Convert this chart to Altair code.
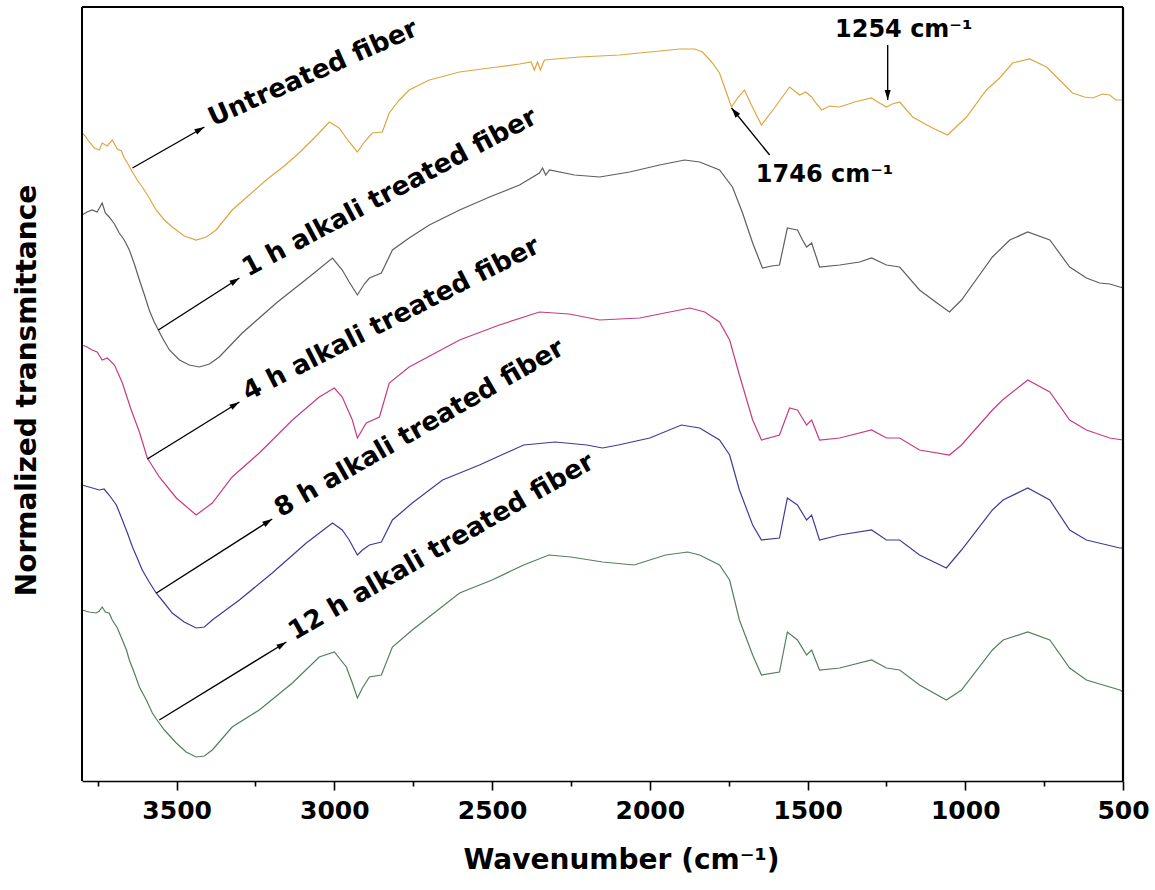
import math
import altair as alt
import pandas as pd

# ---------------- data (wavenumber in cm-1, normalized transmittance in a.u.) ----------------
untreated_wn = [3800, 3790, 3777, 3761, 3745, 3736, 3720, 3704, 3688, 3675, 3666, 3656, 3644, 3625, 3609,
                3587, 3565, 3539, 3514, 3476, 3438, 3406, 3375, 3324, 3270, 3216, 3159, 3112, 3064, 3016,
                2985, 2953, 2927, 2905, 2880, 2848, 2826, 2794, 2763, 2699, 2603, 2508, 2413, 2376, 2366,
                2356, 2347, 2334, 2223, 2096, 2000, 1905, 1858, 1833, 1804, 1779, 1760, 1741, 1722, 1700,
                1678, 1646, 1605, 1557, 1525, 1506, 1487, 1471, 1455, 1430, 1398, 1351, 1297, 1272, 1250,
                1231, 1208, 1167, 1104, 1056, 996, 933, 891, 850, 796, 742, 701, 660, 622, 596, 565, 542,
                523, 500]
untreated_t = [648, 645, 639, 633, 631, 638, 635, 641, 632, 630, 623, 618, 611, 601, 594,
               583, 571, 561, 554, 545, 541, 544, 551, 571, 586, 601, 615, 628, 643, 659,
               653, 639, 629, 639, 648, 649, 668, 681, 691, 701, 709, 713, 717, 719, 711,
               719, 711, 721, 724, 726, 729, 732, 732, 729, 719, 708, 691, 674, 683, 691,
               676, 656, 673, 694, 686, 689, 684, 677, 671, 675, 674, 679, 683, 678, 674,
               677, 679, 664, 653, 646, 664, 691, 703, 718, 722, 714, 701, 688, 684, 683, 687, 686,
               681, 681]

h1_wn = [3800, 3784, 3768, 3752, 3736, 3726, 3714, 3697, 3682, 3666, 3650, 3634, 3618, 3602, 3587, 3571,
         3558, 3545, 3523, 3491, 3460, 3428, 3396, 3365, 3292, 3184, 3080, 3006, 2975, 2953, 2927, 2905,
         2889, 2851, 2816, 2763, 2699, 2603, 2508, 2413, 2350, 2340, 2330, 2318, 2239, 2159, 2064, 1969,
         1890, 1842, 1779, 1738, 1706, 1674, 1643, 1614, 1589, 1564, 1548, 1532, 1516, 1503, 1487, 1462,
         1398, 1335, 1297, 1250, 1208, 1145, 1081, 1050, 1012, 955, 914, 859, 802, 732, 669, 616, 574,
         542, 510, 500]
h1_t = [566, 569, 571, 569, 578, 568, 564, 557, 548, 541, 531, 517, 501, 486, 471, 459,
        451, 443, 431, 421, 416, 414, 417, 424, 448, 478, 504, 523, 511, 499, 486, 497,
        503, 508, 531, 543, 556, 571, 584, 596, 608, 613, 606, 611, 606, 604, 609, 616,
        621, 619, 611, 594, 568, 538, 513, 515, 516, 553, 552, 551, 541, 534, 538, 514,
        516, 519, 523, 516, 514, 491, 476, 469, 481, 506, 524, 541, 549, 541, 514, 503, 498,
        497, 494, 493]

h4_wn = [3800, 3784, 3768, 3752, 3736, 3720, 3697, 3672, 3644, 3618, 3593, 3555, 3501, 3438, 3387, 3324,
         3238, 3133, 3048, 3000, 2975, 2943, 2927, 2899, 2857, 2826, 2763, 2603, 2477, 2350, 2255, 2159,
         2032, 1937, 1873, 1826, 1779, 1747, 1716, 1674, 1646, 1589, 1557, 1532, 1503, 1487, 1462, 1398,
         1297, 1250, 1208, 1145, 1050, 1012, 914, 882, 802, 732, 669, 616, 542, 500]
h4_t = [436, 434, 431, 429, 421, 423, 416, 398, 371, 349, 323, 304, 283, 266, 278, 304,
        328, 361, 384, 393, 384, 361, 343, 358, 364, 398, 414, 441, 456, 469, 467, 461,
        463, 469, 473, 469, 459, 441, 406, 361, 341, 346, 373, 371, 356, 361, 341, 343,
        351, 343, 343, 331, 326, 336, 371, 381, 401, 389, 361, 351, 343, 341]

h8_wn = [3800, 3778, 3745, 3730, 3714, 3691, 3672, 3656, 3640, 3625, 3609, 3587, 3565, 3539, 3514, 3476,
         3438, 3412, 3387, 3301, 3197, 3089, 3006, 2975, 2953, 2927, 2911, 2889, 2851, 2816, 2753, 2657,
         2540, 2400, 2300, 2200, 2150, 2100, 2000, 1900, 1842, 1779, 1747, 1716, 1674, 1646, 1589, 1564,
         1532, 1503, 1487, 1462, 1398, 1297, 1250, 1208, 1145, 1060, 1012, 914, 880, 802, 732, 669, 616,
         510, 500]
h8_t = [296, 294, 291, 292, 286, 276, 261, 248, 234, 223, 211, 199, 188, 178, 168, 159,
        153, 154, 161, 181, 208, 238, 258, 251, 241, 226, 231, 236, 239, 261, 278, 301,
        316, 336, 339, 336, 333, 336, 343, 356, 353, 341, 326, 291, 256, 241, 243, 283,
        276, 261, 266, 241, 246, 251, 241, 241, 226, 213, 231, 271, 281, 293, 281, 251, 241,
        233, 233]

h12_wn = [3800, 3778, 3755, 3745, 3736, 3726, 3714, 3704, 3688, 3672, 3659, 3650, 3634, 3618, 3596, 3577,
          3562, 3539, 3501, 3470, 3438, 3412, 3387, 3324, 3238, 3133, 3048, 3000, 2962, 2943, 2927, 2911,
          2889, 2851, 2816, 2753, 2603, 2500, 2400, 2320, 2250, 2150, 2050, 1950, 1880, 1842, 1779, 1747,
          1716, 1674, 1646, 1589, 1564, 1532, 1503, 1487, 1462, 1398, 1297, 1250, 1208, 1145, 1060, 1012,
          914, 880, 802, 732, 669, 616, 510, 500]
h12_t = [171, 169, 168, 170, 174, 169, 168, 161, 153, 141, 131, 121, 108, 94, 81, 68,
         61, 51, 38, 29, 24, 25, 31, 54, 71, 98, 124, 129, 114, 98, 83, 93,
         104, 106, 134, 151, 188, 201, 216, 226, 224, 219, 216, 226, 229, 226, 216, 201,
         161, 126, 106, 109, 149, 141, 126, 131, 111, 113, 121, 113, 111, 96, 81, 91,
         131, 141, 149, 141, 113, 101, 91, 89]

series_names = ["Untreated fiber", "1 h alkali treated fiber", "4 h alkali treated fiber",
                "8 h alkali treated fiber", "12 h alkali treated fiber"]
series_colors = ["#DDA640", "#5E5E5E", "#C83A80", "#3C3C98", "#52805A"]
series_data = [(untreated_wn, untreated_t), (h1_wn, h1_t), (h4_wn, h4_t), (h8_wn, h8_t), (h12_wn, h12_t)]

# arrows for the series labels: start (on curve) and tip (wavenumber, a.u.)
label_arrow_x = [3640, 3558, 3593, 3564, 3555]
label_arrow_y = [613, 451, 322, 188, 61]
label_arrow_x2 = [3412, 3301, 3301, 3197, 3152]
label_arrow_y2 = [654, 503, 379, 262, 139]
label_angles = [24, 28, 27, 30, 30]   # text tilt, degrees counter-clockwise

# peak annotations
peak_texts = ["1746 cm\u207b\u00b9", "1254 cm\u207b\u00b9"]
peak_text_x = [1446, 1195]
peak_text_y = [599, 744]
peak_arrow_x = [1620, 1246]
peak_arrow_y = [626, 736]
peak_arrow_x2 = [1741, 1246]
peak_arrow_y2 = [673, 681]

# ---------------- layout ----------------
W, H = 1041, 774
X_DOMAIN = [500, 3800]
Y_DOMAIN = [0, 774]
FONT = "DejaVu Sans"


def to_px(wn, t):
    return ((X_DOMAIN[1] - wn) / (X_DOMAIN[1] - X_DOMAIN[0]) * W,
            (Y_DOMAIN[1] - t) / (Y_DOMAIN[1] - Y_DOMAIN[0]) * H)


def from_px(px, py):
    return (X_DOMAIN[1] - px / W * (X_DOMAIN[1] - X_DOMAIN[0]),
            Y_DOMAIN[1] - py / H * (Y_DOMAIN[1] - Y_DOMAIN[0]))


rows = []
for name, (wn, t) in zip(series_names, series_data):
    for a, b in zip(wn, t):
        rows.append({"series": name, "wn": a, "t": b})
df = pd.DataFrame(rows)

arrows = pd.DataFrame({
    "x": label_arrow_x + peak_arrow_x, "y": label_arrow_y + peak_arrow_y,
    "x2": label_arrow_x2 + peak_arrow_x2, "y2": label_arrow_y2 + peak_arrow_y2,
})

heads = []
for _, r in arrows.iterrows():
    sx, sy = to_px(r.x, r.y)
    ex, ey = to_px(r.x2, r.y2)
    dx, dy = ex - sx, ey - sy
    L = math.hypot(dx, dy)
    ux, uy = dx / L, dy / L
    cx, cy = ex - ux * 5, ey - uy * 5
    hx, hy = from_px(cx, cy)
    ang = math.degrees(math.atan2(dx, -dy)) % 360
    heads.append({"x": hx, "y": hy, "angle": ang})
heads = pd.DataFrame(heads)

labels = pd.DataFrame({"text": series_names, "x": label_arrow_x2, "y": label_arrow_y2,
                       "angle": [360 - a for a in label_angles]})
peaks = pd.DataFrame({"text": peak_texts, "x": peak_text_x, "y": peak_text_y})

xs = alt.Scale(domain=X_DOMAIN, reverse=True, nice=False, zero=False)
ys = alt.Scale(domain=Y_DOMAIN, nice=False, zero=False)

x_axis = alt.Axis(
    values=list(range(3750, 499, -250)), format="d",
    labelExpr="datum.value % 500 === 0 ? datum.label : ''",
    tickSize={"condition": {"test": "datum.value % 500 === 0", "value": 9}, "value": 5},
    tickColor="black", tickWidth=1.6, domainColor="black", domainWidth=1.6, grid=False,
    labelFont=FONT, labelFontWeight="bold", labelFontSize=25, labelColor="black", labelPadding=8,
    labelFlush=False, labelOverlap=False,
    title="Wavenumber (cm\u207b\u00b9)", titleFont=FONT, titleFontWeight="bold", titleFontSize=28,
    titleColor="black", titleX=539, titleY=87, titleBaseline="alphabetic", titleAlign="center",
)
y_axis = alt.Axis(
    labels=False, ticks=False, domain=False, grid=False,
    title="Normalized transmittance", titleFont=FONT, titleFontWeight="bold", titleFontSize=28,
    titleColor="black", titleX=-47, titleY=383, titleAngle=270, titleBaseline="alphabetic",
    titleAlign="center",
)

lines = alt.Chart(df).mark_line(strokeWidth=1.2).encode(
    x=alt.X("wn:Q", scale=xs, axis=x_axis),
    y=alt.Y("t:Q", scale=ys, axis=y_axis),
    color=alt.Color("series:N", scale=alt.Scale(domain=series_names, range=series_colors), legend=None),
    detail="series:N",
)

arrow_lines = alt.Chart(arrows).mark_rule(color="black", strokeWidth=1.4).encode(
    x=alt.X("x:Q", scale=xs), y=alt.Y("y:Q", scale=ys), x2="x2:Q", y2="y2:Q")

arrow_heads = alt.Chart(heads).mark_point(
    shape="M0,-1L0.6,1L-0.6,1Z", filled=True, color="black", opacity=1, size=100, strokeWidth=0
).encode(x=alt.X("x:Q", scale=xs), y=alt.Y("y:Q", scale=ys), angle=alt.Angle("angle:Q", scale=None))

label_text = alt.Chart(labels).mark_text(
    font=FONT, fontWeight="bold", fontSize=26, align="left", baseline="alphabetic", dx=8, dy=3, color="black"
).encode(x=alt.X("x:Q", scale=xs), y=alt.Y("y:Q", scale=ys), text="text:N",
         angle=alt.Angle("angle:Q", scale=None))

peak_text = alt.Chart(peaks).mark_text(
    font=FONT, fontWeight="bold", fontSize=24, align="center", baseline="alphabetic", color="black"
).encode(x=alt.X("x:Q", scale=xs), y=alt.Y("y:Q", scale=ys), text="text:N")

# plot frame edges (top / right / left) as rules positioned at the scale extremes
edge_df = pd.DataFrame({"x0": [X_DOMAIN[1]], "x1": [X_DOMAIN[0]], "y0": [Y_DOMAIN[0]], "y1": [Y_DOMAIN[1]]})
frame_top = alt.Chart(edge_df).mark_rule(color="black", strokeWidth=2.2).encode(
    x=alt.X("x0:Q", scale=xs), x2="x1:Q", y=alt.Y("y1:Q", scale=ys))
frame_right = alt.Chart(edge_df).mark_rule(color="black", strokeWidth=2.2).encode(
    x=alt.X("x1:Q", scale=xs), y=alt.Y("y0:Q", scale=ys), y2="y1:Q")
frame_left = alt.Chart(edge_df).mark_rule(color="black", strokeWidth=2.0).encode(
    x=alt.X("x0:Q", scale=xs), y=alt.Y("y0:Q", scale=ys), y2="y1:Q")

chart = alt.layer(lines, arrow_lines, arrow_heads, label_text, peak_text,
                  frame_top, frame_right, frame_left).properties(
    width=W, height=H, autosize="none", background="white",
    padding={"left": 82, "top": 7, "right": 32, "bottom": 109},
).configure_view(strokeWidth=0)

chart.save("out.html", embed_options={"renderer": "svg", "actions": False})
